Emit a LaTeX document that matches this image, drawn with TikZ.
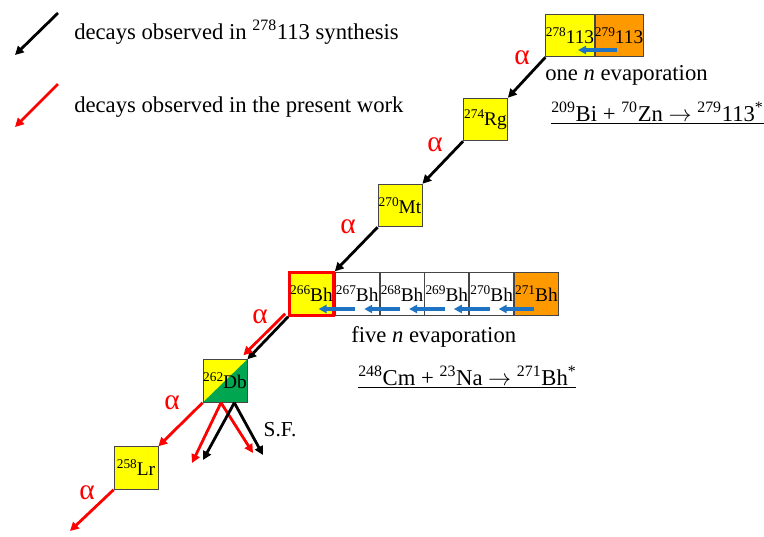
\documentclass[tikz,border=0pt]{standalone}
\usepackage{fontspec}
\setmainfont{Liberation Serif}
\usetikzlibrary{arrows.meta,positioning}

\newcommand{\nuc}[2]{\raisebox{0.8ex}{\fontsize{10}{10}\selectfont #1}#2}

\begin{document}
\begin{tikzpicture}[x=0.75pt,y=0.75pt,yscale=-1,xscale=1,
		nucl/.style={draw={rgb, 255:red, 70; green, 70; blue, 70 },line width=0.6pt,minimum width=33pt,minimum height=32pt,inner sep=0pt,font=\fontsize{14.5}{16}\selectfont},
		yel/.style={nucl,fill={rgb, 255:red, 255; green, 255; blue, 0 }},
		org/.style={nucl,fill={rgb, 255:red, 255; green, 153; blue, 0 }},
		blk/.style={line width=2.1pt,-{Triangle[length=6.5pt,width=6.5pt]}},
		rd/.style={blk,color={rgb, 255:red, 255; green, 0; blue, 0 }},
		evap/.style={line width=2.3pt,color={rgb, 255:red, 30; green, 115; blue, 195 },-{Triangle[length=6pt,width=6pt]}},
		alf/.style={color={rgb, 255:red, 255; green, 0; blue, 0 },font=\fontsize{22}{22}\selectfont},
		txt/.style={font=\fontsize{17}{19}\selectfont,inner sep=0.75pt}]
		\useasboundingbox (0,0) rectangle (764,536);
		\node [yel] (u278) at (570,35.5) {\nuc{278}{113}};
		\node [org, right=0pt of u278] (u279) {\nuc{279}{113}};
		\node [yel] (rg) at (485.5,119.5) {\nuc{274}{Rg}};
		\node [yel] (mt) at (400,205.5) {\nuc{270}{Mt}};
		\node [yel, draw={rgb, 255:red, 255; green, 0; blue, 0 }, line width=2pt] (bh266) at (311.5,294) {\nuc{266}{Bh}};
		\node [nucl, right=0pt of bh266] (bh267) {\nuc{267}{Bh}};
		\node [nucl, right=0pt of bh267] (bh268) {\nuc{268}{Bh}};
		\node [nucl, right=0pt of bh268] (bh269) {\nuc{269}{Bh}};
		\node [nucl, right=0pt of bh269] (bh270) {\nuc{270}{Bh}};
		\node [org, right=0pt of bh270] (bh271) {\nuc{271}{Bh}};
		\node [yel, path picture={\fill [color={rgb, 255:red, 0; green, 166; blue, 80 }] (path picture bounding box.south west) -- (path picture bounding box.north east) -- (path picture bounding box.south east) -- cycle;}] (db) at (225,381) {\nuc{262}{Db}};
		\node [yel] (lr) at (136,468) {\nuc{258}{Lr}};
		
		\draw [evap] ([shift={(-2,14.5)}]u279.center) -- ([shift={(8,14.5)}]u278.center);
		\foreach \a/\b in {267/266,268/267,269/268,270/269,271/270}
			\draw [evap] ([shift={(-2,15)}]bh\a.center) -- ([shift={(7,15)}]bh\b.center);
		
		\draw [blk] (u278.south west) -- (rg.north east);
		\draw [blk] (rg.south west) -- (mt.north east);
		\draw [blk] (mt.south west) -- (bh266.north east);
		\draw [blk] (bh266.south west) -- (db.north east);
		\draw [rd] ([shift={(-3,-3)}]bh266.south west) -- ([shift={(-4,-4)}]db.north east);
		\draw [rd] (db.south west) -- (lr.north east);
		\coordinate (lrend) at (70,531);
		\draw [rd] (lr.south west) -- (lrend);
		
		\coordinate (sfa) at (192,463);
		\coordinate (sfb) at (253,453);
		\coordinate (sfc) at (203,460);
		\coordinate (sfd) at (263,455);
		\draw [rd] ([xshift=-3]db.south) -- (sfa);
		\draw [rd] ([xshift=-3]db.south) -- (sfb);
		\draw [blk] ([xshift=7]db.south) -- (sfc);
		\draw [blk] ([xshift=7]db.south) -- (sfd);
		\draw (280,430) node [txt, font=\fontsize{16}{18}\selectfont] {S.F.};
		
		\draw (522,58) node [alf] {α};
		\draw (435,145) node [alf] {α};
		\draw (348,227) node [alf] {α};
		\draw (260,317) node [alf] {α};
		\draw (172,403) node [alf] {α};
		\draw (87,493) node [alf] {α};
		
		\draw (544,75) node [txt, anchor=west] {one \textit{n} evaporation};
		\draw (550,113) node [txt, anchor=west] {\underline{\textsuperscript{209}Bi + \textsuperscript{70}Zn $\rightarrow$ \textsuperscript{279}113\textsuperscript{*}}};
		\draw (350,337) node [txt, anchor=west] {five \textit{n} evaporation};
		\draw (357,377) node [txt, anchor=west] {\underline{\textsuperscript{248}Cm + \textsuperscript{23}Na $\rightarrow$ \textsuperscript{271}Bh\textsuperscript{*}}};
		
		\coordinate (kbeg) at (58,13);
		\coordinate (kend) at (15,55);
		\coordinate (rbeg) at (58,84);
		\coordinate (rend) at (15,127);
		\draw [blk] (kbeg) -- (kend);
		\draw [rd] (rbeg) -- (rend);
		\draw (73,32) node [txt, anchor=west] {decays observed in \textsuperscript{278}113 synthesis};
		\draw (73,107) node [txt, anchor=west] {decays observed in the present work};
		\end{tikzpicture}
\end{document}
